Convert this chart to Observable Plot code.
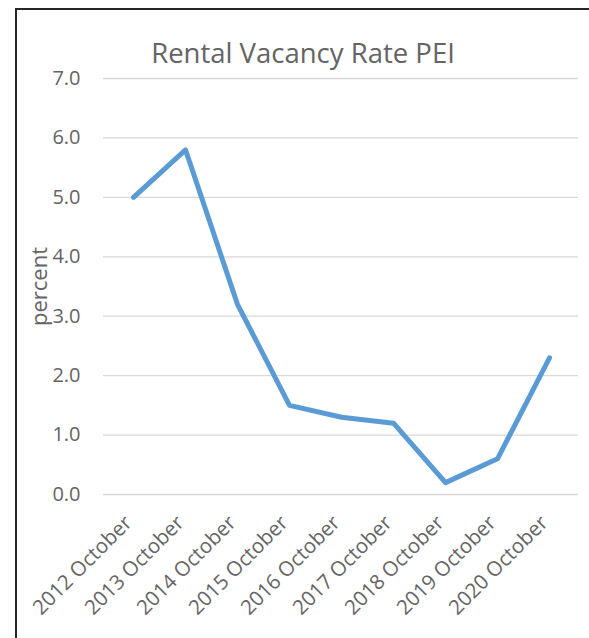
<!DOCTYPE html>
<html>
<head>
<meta charset="utf-8">
<script src="https://cdn.jsdelivr.net/npm/d3@7"></script>
<script src="https://cdn.jsdelivr.net/npm/@observablehq/plot@0.6"></script>
<style>
  html, body { margin: 0; padding: 0; background: #fff; }
  #wrap { position: relative; width: 589px; height: 638px; overflow: hidden; }
  #frame { position: absolute; left: 15px; top: 8px; width: 600px; height: 700px;
           border-left: 2px solid #262626; border-top: 2px solid #262626; }
  #chart { position: absolute; left: 0; top: 0; }
</style>
</head>
<body>
<div id="wrap"><div id="frame"></div><div id="chart"></div></div>
<script>
const title = "Rental Vacancy Rate PEI";
const yLabel = "percent";
const periods = ["2012 October","2013 October","2014 October","2015 October","2016 October","2017 October","2018 October","2019 October","2020 October"];
const rates = [5.0, 5.8, 3.2, 1.5, 1.3, 1.2, 0.2, 0.6, 2.3];
const yTicks = [0, 1, 2, 3, 4, 5, 6, 7];

const data = periods.map((p, i) => ({period: p, rate: rates[i]}));
const font = "'Open Sans', sans-serif";
const gray = "#646464";

const chart = Plot.plot({
  width: 589,
  height: 638,
  marginLeft: 103,
  marginRight: 11,
  marginTop: 78,
  marginBottom: 144,
  style: {fontFamily: font, background: "transparent", color: gray},
  x: {type: "point", domain: periods, padding: 0.5},
  y: {domain: [0, 7]},
  marks: [
    Plot.ruleY(yTicks, {stroke: "#d9d9d9", strokeWidth: 1.3}),
    Plot.axisY(yTicks, {tickSize: 0, tickPadding: 23, tickFormat: d => d.toFixed(1), fontSize: 20, fill: gray, label: null}),
    Plot.axisX({tickSize: 0, tickRotate: -45, tickPadding: 25, dx: -5, fontSize: 20.5, fill: gray, label: null}),
    Plot.line(data, {x: "period", y: "rate", stroke: "#5b9bd5", strokeWidth: 5, strokeLinejoin: "round", strokeLinecap: "round"}),
    Plot.text([title], {frameAnchor: "top", dx: -38, dy: -16, lineAnchor: "bottom", fontSize: 27.5, fill: gray}),
    Plot.text([yLabel], {frameAnchor: "left", textAnchor: "middle", rotate: -90, dx: -64, fontSize: 22, fill: gray})
  ]
});
document.getElementById("chart").appendChild(chart);
</script>
</body>
</html>
